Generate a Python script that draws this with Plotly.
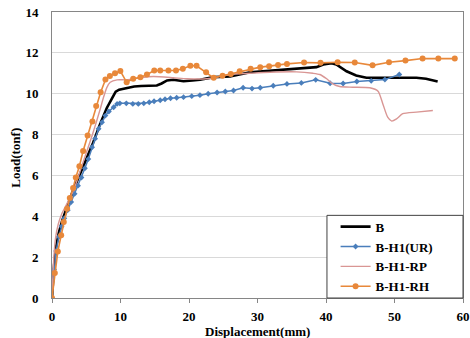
import plotly.graph_objects as go

# ---- data ----
b_x = [0, 0.3, 0.6, 1.0, 1.5, 2.0, 2.5, 3.0, 4.0, 5.0, 6.0, 7.0, 8.0, 8.8, 9.3, 9.8, 11.0, 12.0, 13.0, 14.0,
       15.3, 16.0, 16.8, 17.7, 19.2, 20.5, 21.6, 23.6, 26.0, 28.9, 30.8, 32.8, 35.7, 38.6, 39.6, 40.8, 41.5,
       43.0, 44.4, 45.9, 47.8, 50.0, 53.2, 54.6, 56.3]
b_y = [0, 1.6, 2.5, 3.2, 3.8, 4.3, 4.8, 5.2, 6.0, 6.8, 7.6, 8.5, 9.3, 9.8, 10.1, 10.2, 10.3, 10.35, 10.38, 10.4,
       10.4, 10.5, 10.65, 10.68, 10.61, 10.65, 10.68, 10.81, 10.84, 11.05, 11.1, 11.14, 11.22, 11.3, 11.43, 11.49,
       11.43, 11.1, 10.89, 10.78, 10.78, 10.78, 10.78, 10.73, 10.6]

ur_x = [0, 0.3, 0.6, 1.0, 1.4, 1.8, 2.3, 2.8, 3.3, 3.8, 4.3, 4.8, 5.3, 5.85, 6.3, 6.8, 7.3, 7.8, 8.3, 9.0, 9.5,
        9.9, 10.85, 11.8, 12.6, 13.4, 14.2, 14.9, 15.8, 16.5, 17.3, 18.2, 19.2, 20.4, 21.6, 22.8, 24.1, 25.3,
        26.5, 27.9, 29.2, 30.4, 32.3, 34.3, 36.4, 38.5, 40.6, 42.5, 44.5, 46.6, 48.6, 50.7]
ur_y = [0, 1.4, 2.3, 3.0, 3.5, 3.9, 4.3, 4.7, 5.1, 5.5, 5.9, 6.35, 6.8, 7.38, 7.8, 8.28, 8.6, 8.93, 9.13, 9.34,
        9.5, 9.53, 9.53, 9.5, 9.5, 9.53, 9.58, 9.63, 9.68, 9.73, 9.78, 9.8, 9.83, 9.88, 9.93, 10.0, 10.06, 10.11,
        10.16, 10.29, 10.25, 10.29, 10.39, 10.48, 10.53, 10.68, 10.51, 10.5, 10.6, 10.63, 10.69, 10.94]

rp_x = [0, 0.2, 0.5, 0.9, 1.4, 2.0, 2.6, 3.2, 4.0, 5.0, 6.0, 7.0, 7.5, 8.0, 8.5, 9.5, 10.95, 12.9, 14.8, 17.7,
        19.7, 22.6, 26.0, 28.9, 31.8, 35.7, 38.1, 39.1, 40.1, 41.0, 42.0, 43.9, 46.4, 47.6, 48.3, 49.0, 49.6,
        50.3, 51.2, 53.2, 55.6]
rp_y = [0, 1.6, 2.9, 3.6, 4.1, 4.5, 4.9, 5.3, 6.1, 7.1, 8.1, 9.2, 9.8, 10.3, 10.56, 10.68, 10.68, 10.78, 10.84,
        10.78, 10.73, 10.73, 10.94, 11.0, 11.05, 11.07, 11.0, 10.94, 10.73, 10.48, 10.35, 10.32, 10.29, 10.12,
        9.5, 8.85, 8.66, 8.77, 9.02, 9.1, 9.18]

rh_x = [0, 0.41, 0.85, 1.34, 1.72, 2.21, 2.6, 3.08, 3.47, 4.0, 4.54, 5.2, 5.9, 6.45, 7.1, 7.8, 8.45, 9.2, 9.98,
        10.9, 11.85, 12.9, 13.86, 14.93, 15.8, 17.0, 18.1, 19.1, 20.2, 21.1, 22.5, 23.6, 24.9, 26.1, 27.4, 29.0,
        30.4, 31.7, 33.0, 34.3, 36.8, 39.2, 41.7, 44.2, 46.8, 49.2, 51.6, 54.1, 56.4, 58.8]
rh_y = [0, 1.22, 2.28, 3.07, 3.72, 4.37, 4.89, 5.38, 5.9, 6.45, 7.2, 7.96, 8.64, 9.4, 10.07, 10.69, 10.87, 11.0,
        11.11, 10.56, 10.73, 10.8, 10.94, 11.14, 11.14, 11.14, 11.14, 11.22, 11.37, 11.37, 11.05, 10.78, 10.88,
        10.97, 11.1, 11.22, 11.3, 11.35, 11.41, 11.46, 11.53, 11.51, 11.54, 11.53, 11.39, 11.54, 11.62, 11.72,
        11.72, 11.72]

x_ticks = [0, 10, 20, 30, 40, 50, 60]
y_ticks = [0, 2, 4, 6, 8, 10, 12, 14]

FONT = "Liberation Serif"

fig = go.Figure()
fig.add_trace(go.Scatter(x=b_x, y=b_y, name="<b>B</b>", mode="lines",
                         line=dict(color="#000000", width=2.6)))
fig.add_trace(go.Scatter(x=ur_x, y=ur_y, name="<b>B-H1(UR)</b>", mode="lines+markers",
                         line=dict(color="#4a7ebb", width=1.5),
                         marker=dict(symbol="diamond", size=4.5, color="#4a7ebb")))
fig.add_trace(go.Scatter(x=rp_x, y=rp_y, name="<b>B-H1-RP</b>", mode="lines",
                         line=dict(color="#d99694", width=1.4, shape="spline", smoothing=0.6)))
fig.add_trace(go.Scatter(x=rh_x, y=rh_y, name="<b>B-H1-RH</b>", mode="lines+markers",
                         line=dict(color="#e8883a", width=1.6),
                         marker=dict(symbol="circle", size=6, color="#e8883a")))

fig.add_shape(type="rect", xref="paper", yref="paper", x0=0.669, x1=1.0, y0=0.0, y1=0.289,
              line=dict(color="#404040", width=1), fillcolor="white", layer="above")

fig.add_annotation(text="<b>Displacement(mm)</b>", xref="paper", yref="paper", x=0.5, y=-0.117,
                   xanchor="center", yanchor="middle", showarrow=False,
                   font=dict(family=FONT, size=13, color="#000000"))
fig.add_annotation(text="<b>Load(tonf)</b>", xref="paper", yref="paper", x=-0.088, y=0.49,
                   xanchor="center", yanchor="middle", showarrow=False, textangle=-90,
                   font=dict(family=FONT, size=13, color="#000000"))

fig.update_layout(
    width=470, height=338,
    margin=dict(l=51.5, r=6.5, t=11.5, b=40.3),
    paper_bgcolor="white", plot_bgcolor="white",
    font=dict(family=FONT, size=13, color="#000000"),
    showlegend=True,
    legend=dict(x=0.69, y=0.302, xanchor="left", yanchor="top",
                bgcolor="rgba(0,0,0,0)", borderwidth=0, itemwidth=30,
                font=dict(family=FONT, size=13, color="#000000"), tracegroupgap=0),
    xaxis=dict(range=[0, 60], tickvals=x_ticks, ticktext=[f"<b>{v}</b>" for v in x_ticks],
               showgrid=False, zeroline=False, showline=True, linecolor="#868686", mirror=True,
               ticks="outside", ticklen=4, tickcolor="#868686", ticklabelstandoff=2, automargin=False),
    yaxis=dict(range=[0, 14], tickvals=y_ticks, ticktext=[f"<b>{v}</b>" for v in y_ticks],
               showgrid=True, gridcolor="#d9d9d9", gridwidth=1, zeroline=False, automargin=False,
               showline=True, linecolor="#868686", mirror=True, ticks="", ticklabelstandoff=10),
)

fig.write_html("out.html")
